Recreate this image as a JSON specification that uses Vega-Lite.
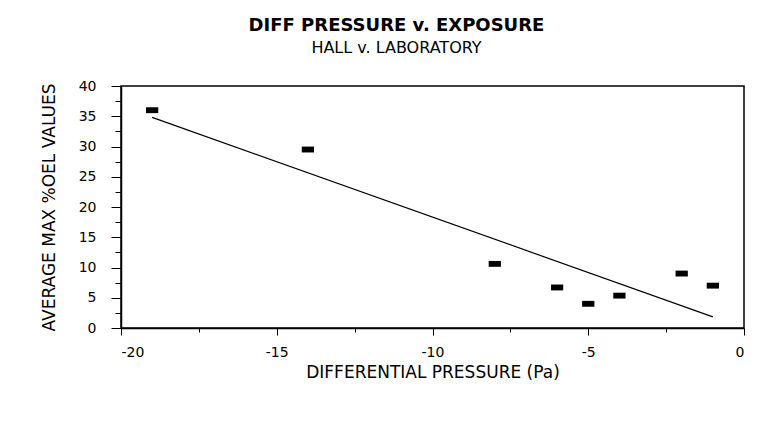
{
  "$schema": "https://vega.github.io/schema/vega-lite/v6.json",
  "width": 623,
  "height": 242,
  "autosize": {"type": "none"},
  "padding": {"left": 121, "top": 86, "right": 32, "bottom": 105},
  "background": "white",
  "title": {
    "text": "DIFF PRESSURE v. EXPOSURE",
    "subtitle": "HALL v. LABORATORY",
    "font": "DejaVu Sans",
    "fontSize": 18,
    "fontWeight": "bold",
    "color": "black",
    "subtitleFont": "DejaVu Sans",
    "subtitleFontSize": 16,
    "subtitleColor": "black",
    "anchor": "middle",
    "dx": -36,
    "offset": 23,
    "subtitlePadding": 5
  },
  "config": {
    "view": {"stroke": "black", "strokeWidth": 1.5},
    "axis": {
      "grid": false,
      "domainColor": "black",
      "domainWidth": 1.5,
      "tickColor": "black",
      "tickWidth": 1,
      "labelFont": "DejaVu Sans",
      "labelFontSize": 14,
      "labelColor": "black",
      "labelOverlap": false,
      "titleFont": "DejaVu Sans",
      "titleFontSize": 17,
      "titleFontWeight": "normal",
      "titleColor": "black"
    }
  },
  "data": {
    "values": [
      {"pressure": -19, "exposure": 36.0},
      {"pressure": -14, "exposure": 29.5},
      {"pressure": -8, "exposure": 10.6},
      {"pressure": -6, "exposure": 6.7},
      {"pressure": -5, "exposure": 4.0},
      {"pressure": -4, "exposure": 5.35},
      {"pressure": -2, "exposure": 9.0},
      {"pressure": -1, "exposure": 7.0}
    ]
  },
  "encoding": {
    "x": {
      "field": "pressure",
      "type": "quantitative",
      "scale": {"domain": [-20, 0], "nice": false, "zero": false},
      "title": "DIFFERENTIAL PRESSURE (Pa)",
      "axis": {
        "values": [-20, -17.5, -15, -12.5, -10, -7.5, -5, -2.5, 0],
        "labelOverlap": false,
        "labelExpr": "datum.value % 5 === 0 ? replace(format(datum.value, 'd'), '\u2212', '-') : ''",
        "tickSize": {"condition": {"test": "datum.value % 5 === 0", "value": 7}, "value": 4},
        "labelPadding": 10,
        "titlePadding": 5
      }
    },
    "y": {
      "field": "exposure",
      "type": "quantitative",
      "scale": {"domain": [0, 40], "nice": false},
      "title": "AVERAGE MAX %OEL VALUES",
      "axis": {
        "values": [0, 2.5, 5, 7.5, 10, 12.5, 15, 17.5, 20, 22.5, 25, 27.5, 30, 32.5, 35, 37.5, 40],
        "labelOverlap": false,
        "labelExpr": "datum.value % 5 === 0 ? format(datum.value, 'd') : ''",
        "tickSize": {"condition": {"test": "datum.value % 5 === 0", "value": 10}, "value": 6},
        "labelPadding": 15,
        "titlePadding": 20
      }
    }
  },
  "layer": [
    {
      "mark": {
        "type": "point",
        "shape": "M-1,-0.48L1,-0.48L1,0.48L-1,0.48Z",
        "filled": true,
        "color": "black",
        "opacity": 1,
        "size": 150
      }
    },
    {
      "transform": [{"regression": "exposure", "on": "pressure"}],
      "mark": {"type": "line", "color": "black", "strokeWidth": 1.2}
    }
  ]
}
